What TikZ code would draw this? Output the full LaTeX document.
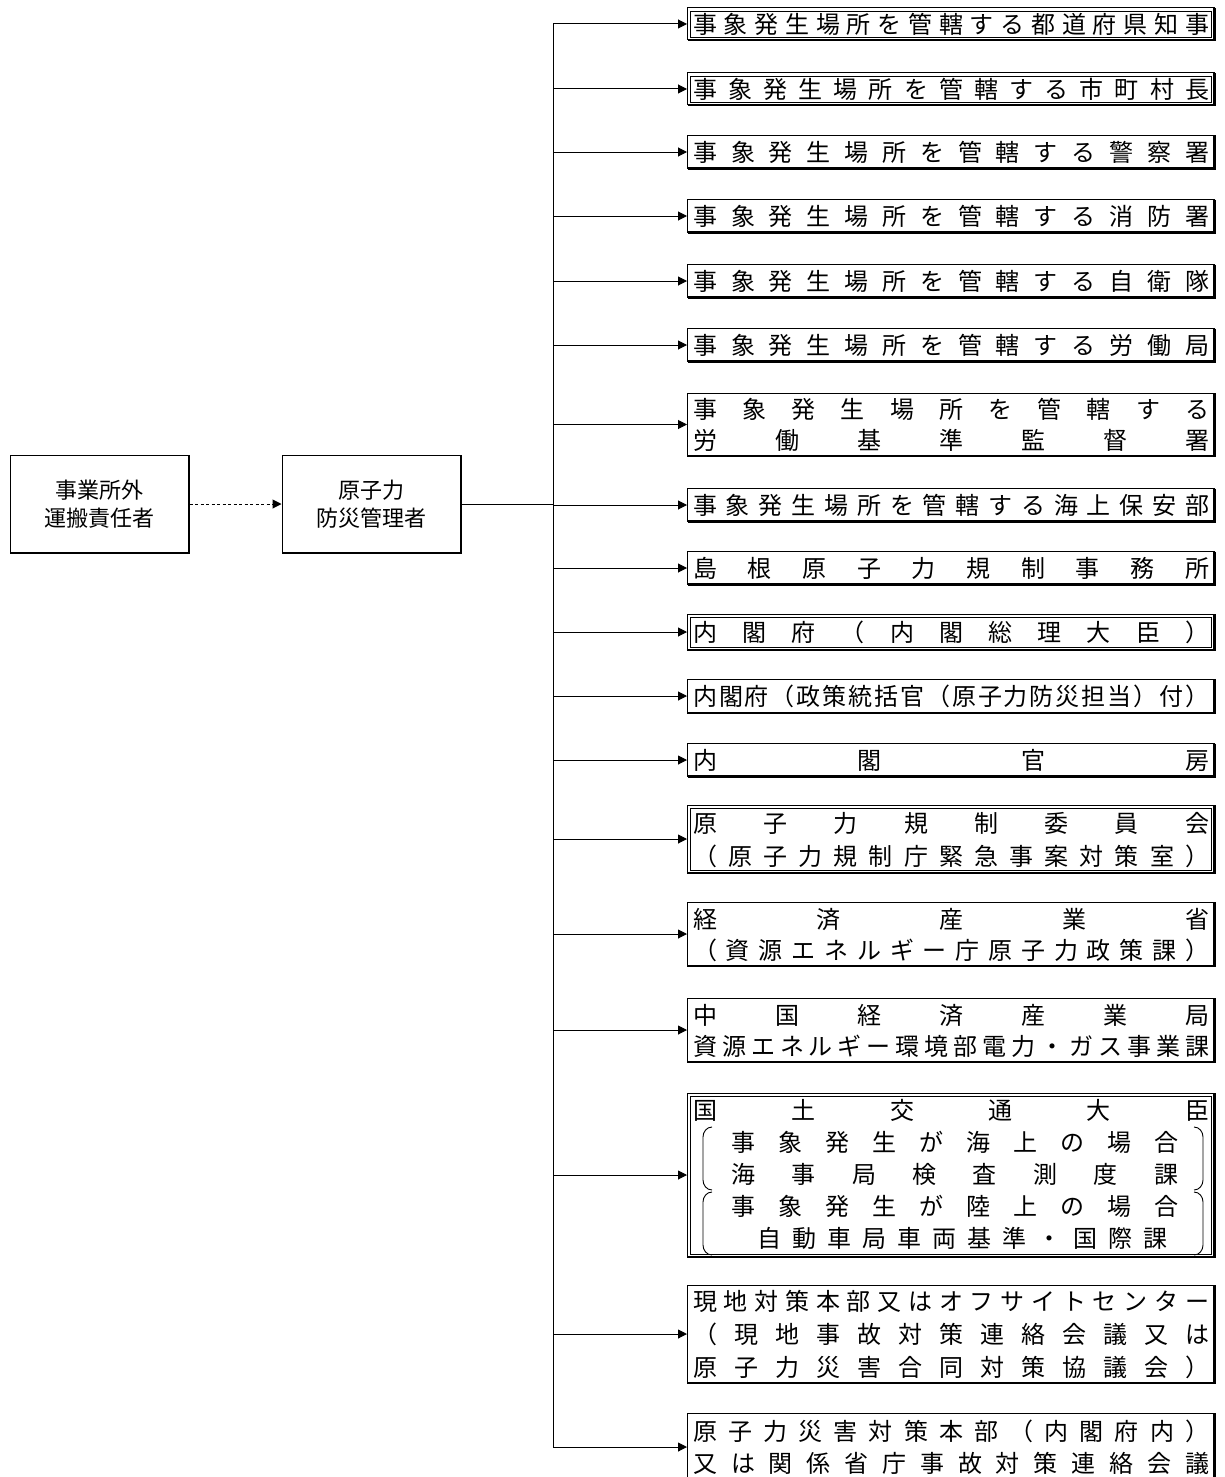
\documentclass[tikz,border=0pt]{standalone}
\usepackage{fontspec}
\setmainfont{Noto Sans CJK JP}
\usetikzlibrary{arrows.meta}
\ExplSyntaxOn
\NewDocumentCommand\spreadtext{mm}
 {
  \makebox[#1][s]{ \bool_set_true:N \l_tmpa_bool
   \tl_map_inline:nn {#2}
    { \bool_if:NF \l_tmpa_bool { \hfill } \bool_set_false:N \l_tmpa_bool ##1 } }
 }
\ExplSyntaxOff
\newcommand\shadowedge[1]{\draw[line width=2.4pt] ([xshift=-0.7pt,yshift=-0.5pt]#1.north east) -- ([xshift=-0.7pt,yshift=0.7pt]#1.south east) -- ([xshift=0.5pt,yshift=0.7pt]#1.south west);}
\newcommand\dblinner[1]{\draw[line width=0.8pt] ([xshift=3.5pt,yshift=3.5pt]#1.south west) rectangle ([xshift=-3.5pt,yshift=-3.5pt]#1.north east);}
\tikzset{
  box/.style={draw, line width=1pt, inner sep=0pt, anchor=west, minimum width=527pt},
  lbox/.style={draw, line width=1pt, inner sep=0pt, minimum width=179pt, minimum height=98pt,
    align=center, font=\fontsize{22pt}{28pt}\selectfont},
  txt/.style={inner sep=0pt, anchor=west, font=\fontsize{24pt}{24pt}\selectfont},
  arr/.style={line width=1pt, -{Triangle[length=9pt,width=9pt]}},
  darr/.style={line width=1pt, dash pattern=on 3pt off 2.5pt, -{Triangle[length=9pt,width=9pt]}},
  ln/.style={line width=1pt},
  brk/.style={line width=0.9pt},
}
\begin{document}
\begin{tikzpicture}[x=1pt,y=-1pt]
\useasboundingbox (0,0) rectangle (1224,1477);
\clip (0,0) rectangle (1224,1477);
\fill[white] (0,0) rectangle (1224,1477);

% left boxes
\node[lbox] (A) at (99.5,504) {事業所外\\運搬責任者};
\node[lbox] (B) at (371.5,504) {原子力\\防災管理者};
\shadowedge{A}
\shadowedge{B}

% right boxes
\node[box, minimum height=32pt] (b1) at (687,24) {};
\node[box, minimum height=32pt] (b2) at (687,89) {};
\node[box, minimum height=33pt] (b3) at (687,152) {};
\node[box, minimum height=33pt] (b4) at (687,216) {};
\node[box, minimum height=33pt] (b5) at (687,281) {};
\node[box, minimum height=33pt] (b6) at (687,345) {};
\node[box, minimum height=63pt] (b7) at (687,424.5) {};
\node[box, minimum height=33pt] (b8) at (687,505) {};
\node[box, minimum height=33pt] (b9) at (687,568) {};
\node[box, minimum height=36pt] (b10) at (687,632) {};
\node[box, minimum height=34pt] (b11) at (687,696) {};
\node[box, minimum height=33pt] (b12) at (687,760) {};
\node[box, minimum height=68pt] (b13) at (687,839) {};
\node[box, minimum height=64pt] (b14) at (687,934) {};
\node[box, minimum height=64pt] (b15) at (687,1030) {};
\node[box, minimum height=164pt] (b16) at (687,1175) {};
\node[box, minimum height=98pt] (b17) at (687,1334) {};
\node[box, minimum height=68pt] (b18) at (687,1447) {};
\foreach \b in {b1,b2,b3,b4,b5,b6,b7,b8,b9,b10,b11,b12,b13,b14,b15,b16,b17,b18}{\shadowedge{\b}}
\foreach \b in {b1,b2,b10,b13,b16}{\dblinner{\b}}

% texts
\node[txt] (t1) at (693,24) {\spreadtext{516pt}{事象発生場所を管轄する都道府県知事}};
\node[txt] (t2) at (693,89) {\spreadtext{516pt}{事象発生場所を管轄する市町村長}};
\node[txt] (t3) at (693,152) {\spreadtext{516pt}{事象発生場所を管轄する警察署}};
\node[txt] (t4) at (693,216) {\spreadtext{516pt}{事象発生場所を管轄する消防署}};
\node[txt] (t5) at (693,281) {\spreadtext{516pt}{事象発生場所を管轄する自衛隊}};
\node[txt] (t6) at (693,345) {\spreadtext{516pt}{事象発生場所を管轄する労働局}};
\node[txt] (t7a) at (693,409) {\spreadtext{516pt}{事象発生場所を管轄する}};
\node[txt] (t7b) at (693,440) {\spreadtext{516pt}{労働基準監督署}};
\node[txt] (t8) at (693,505) {\spreadtext{516pt}{事象発生場所を管轄する海上保安部}};
\node[txt] (t9) at (693,568) {\spreadtext{516pt}{島根原子力規制事務所}};
\node[txt] (t10) at (693,632) {\spreadtext{516pt}{内閣府（内閣総理大臣）}};
\node[txt] (t11) at (693,696) {\spreadtext{516pt}{内閣府（政策統括官（原子力防災担当）付）}};
\node[txt] (t12) at (693,760) {\spreadtext{516pt}{内閣官房}};
\node[txt] (t13a) at (693,823) {\spreadtext{516pt}{原子力規制委員会}};
\node[txt] (t13b) at (693,856) {\spreadtext{516pt}{（原子力規制庁緊急事案対策室）}};
\node[txt] (t14a) at (693,919) {\spreadtext{516pt}{経済産業省}};
\node[txt] (t14b) at (693,950) {\spreadtext{516pt}{（資源エネルギー庁原子力政策課）}};
\node[txt] (t15a) at (693,1015) {\spreadtext{516pt}{中国経済産業局}};
\node[txt] (t15b) at (693,1046) {\spreadtext{516pt}{資源エネルギー環境部電力・ガス事業課}};
\node[txt] (t16a) at (693,1110) {\spreadtext{516pt}{国土交通大臣}};
\node[txt] (t16b) at (731,1142) {\spreadtext{447pt}{事象発生が海上の場合}};
\node[txt] (t16c) at (731,1174) {\spreadtext{447pt}{海事局検査測度課}};
\node[txt] (t16d) at (731,1206) {\spreadtext{447pt}{事象発生が陸上の場合}};
\node[txt] (t16e) at (757,1238) {\spreadtext{410pt}{自動車局車両基準・国際課}};
\node[txt] (t17a) at (693,1301) {\spreadtext{516pt}{現地対策本部又はオフサイトセンター}};
\node[txt] (t17b) at (693,1334) {\spreadtext{516pt}{（現地事故対策連絡会議又は}};
\node[txt] (t17c) at (693,1367) {\spreadtext{516pt}{原子力災害合同対策協議会）}};
\node[txt] (t18a) at (693,1431) {\spreadtext{516pt}{原子力災害対策本部（内閣府内）}};
\node[txt] (t18b) at (693,1463) {\spreadtext{516pt}{又は関係省庁事故対策連絡会議}};

% brackets in box 16
\draw[brk] (712,1127) to[out=180,in=90] (703,1137) -- (703,1180) to[out=-90,in=180] (712,1190);
\draw[brk] (1194,1127) to[out=0,in=90] (1203,1137) -- (1203,1180) to[out=-90,in=0] (1194,1190);
\draw[brk] (712,1192) to[out=180,in=90] (703,1202) -- (703,1245) to[out=-90,in=180] (712,1255);
\draw[brk] (1194,1192) to[out=0,in=90] (1203,1202) -- (1203,1245) to[out=-90,in=0] (1194,1255);

% connectors
\coordinate (trunk) at (553,0);
\draw[darr] (A.east) -- (B.west);
\draw[ln] (B.east) -- (B.east -| trunk);
\draw[ln] (trunk |- b1.west) -- (trunk |- b18.west);
\foreach \b in {b1,b2,b3,b4,b5,b6,b7,b8,b9,b10,b11,b12,b13,b14,b15,b16,b17,b18}{
  \draw[arr] (trunk |- \b.west) -- (\b.west);
}
\end{tikzpicture}
\end{document}
